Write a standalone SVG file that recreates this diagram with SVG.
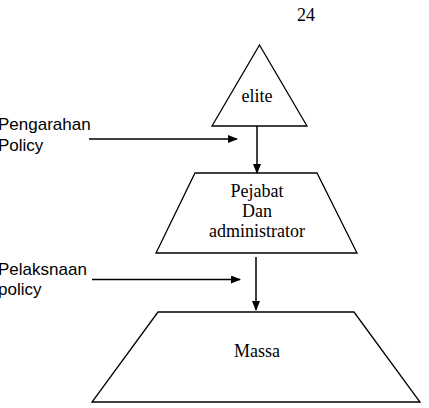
<svg xmlns="http://www.w3.org/2000/svg" width="429" height="408" viewBox="0 0 429 408">
<defs>
<marker id="ah" markerWidth="10" markerHeight="8" refX="9" refY="4" orient="auto" markerUnits="userSpaceOnUse">
<path d="M0,0 L10,4 L0,8 Z" fill="#000"/>
</marker>
</defs>
<style>
.shape{fill:#fff;stroke:#000;stroke-width:1.3}
.serif{font-family:'Liberation Serif','Times New Roman','DejaVu Serif',serif;font-size:18px;fill:#000;text-anchor:middle}
.sans{font-family:'Liberation Sans',Arial,sans-serif;font-size:17px;fill:#000}
.conn{stroke:#000;stroke-width:1.5;fill:none;marker-end:url(#ah)}
</style>
<rect width="429" height="408" fill="#fff"/>
<text x="306" y="21" class="serif">24</text>
<g id="elite">
<polygon class="shape" points="259.5,45 307,126 212,126"/>
<text x="257" y="102" class="serif" font-size="17">elite</text>
</g>
<g id="pejabat">
<polygon class="shape" points="195,173 317,173 357,253 156,253"/>
<text x="257" y="197" class="serif">Pejabat</text>
<text x="257" y="217" class="serif">Dan</text>
<text x="257" y="237" class="serif">administrator</text>
</g>
<g id="massa">
<polygon class="shape" points="158,312 354,312 420,402 92,402"/>
<text x="257" y="357" class="serif">Massa</text>
</g>
<g id="label-pengarahan">
<text x="-2" y="130" class="sans">Pengarahan</text>
<text x="-2" y="151" class="sans">Policy</text>
</g>
<g id="label-pelaksnaan">
<text x="-2" y="275" class="sans">Pelaksnaan</text>
<text x="-2" y="295" class="sans">policy</text>
</g>
<g id="connectors">
<line class="conn" x1="257" y1="126" x2="257" y2="173"/>
<line class="conn" x1="89" y1="139" x2="237" y2="139"/>
<line class="conn" x1="256" y1="257" x2="256" y2="310"/>
<line class="conn" x1="92" y1="279.5" x2="240" y2="279.5"/>
</g>
</svg>
